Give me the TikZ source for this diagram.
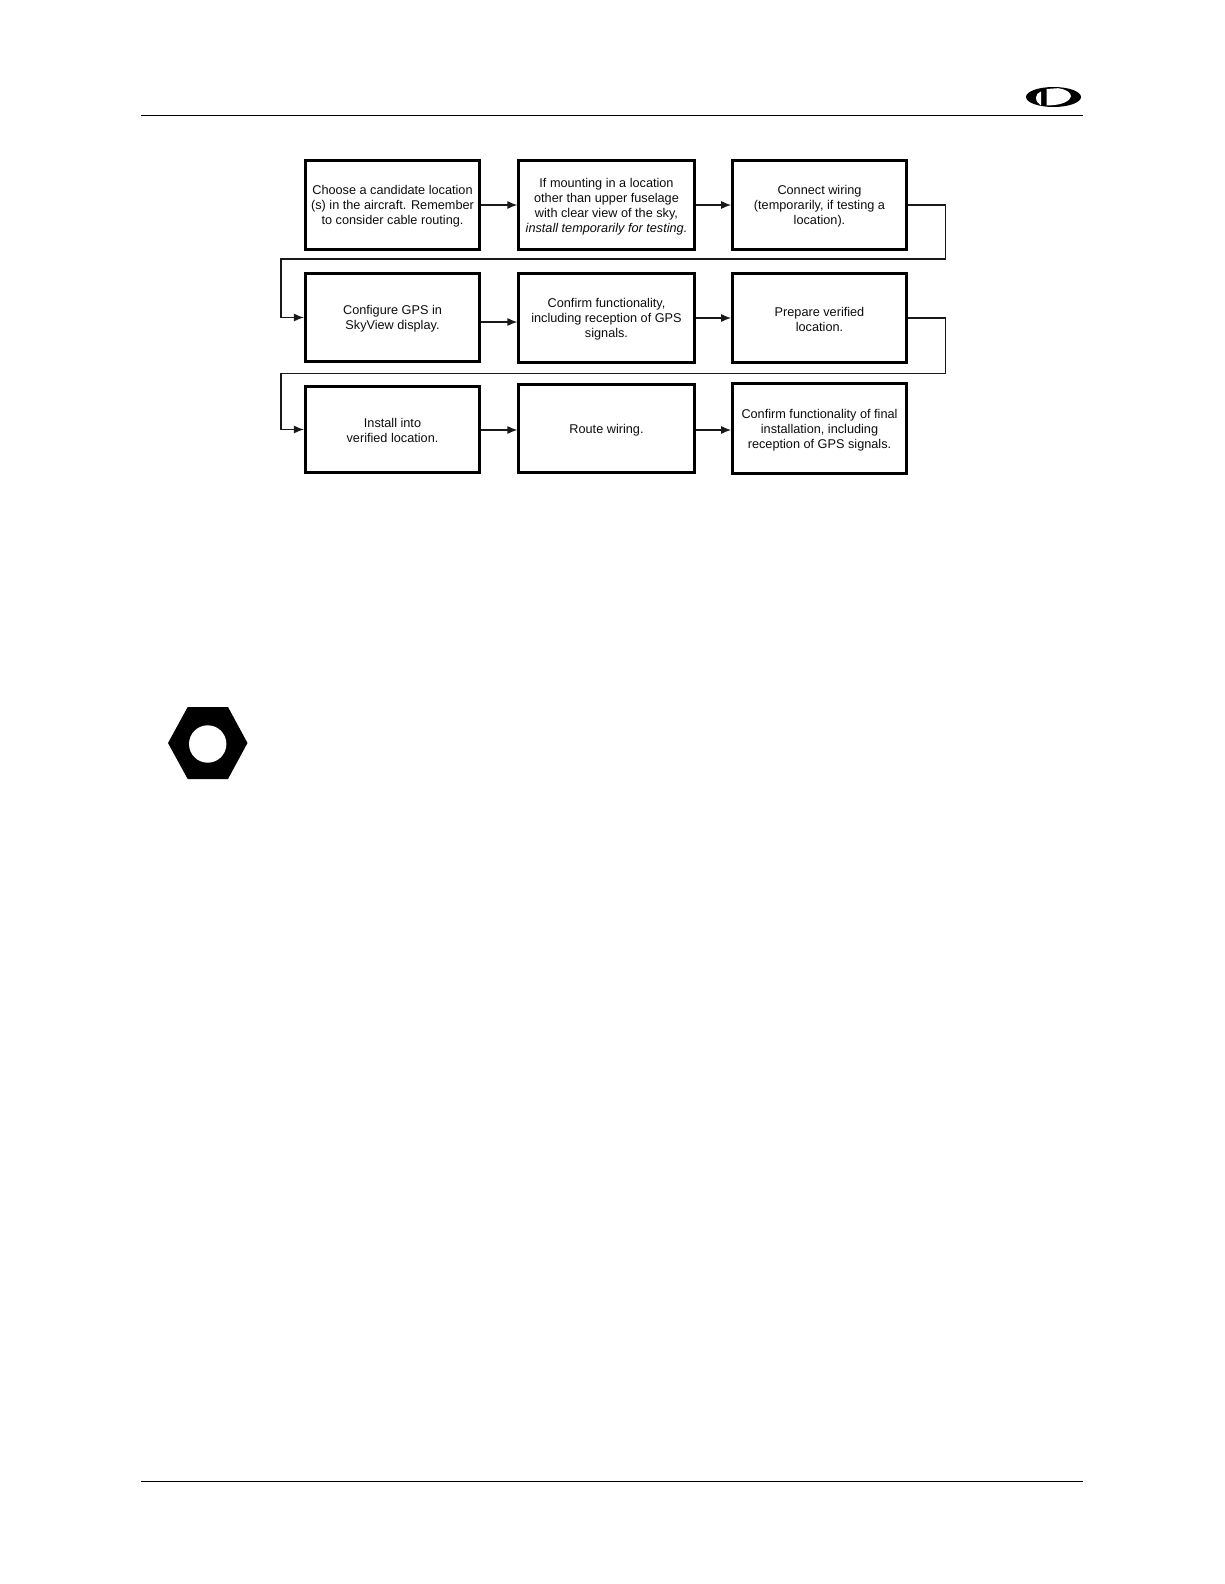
\documentclass[tikz,border=0pt]{standalone}
\usepackage{fontspec}
\setmainfont{Liberation Sans}
\usetikzlibrary{arrows.meta}
\tikzset{
  flowbox/.style={draw=black,line width=2.7pt,fill=white,inner sep=0pt,align=center,font=\fontsize{12.7}{15}\selectfont,text=black!95},
  link/.style={draw=black!90,line width=1.3pt,-{Latex[length=10pt,width=8pt]}},
  rulerline/.style={draw=black,line width=1pt}
}
\newcommand{\fbx}[6]{\node[flowbox,minimum width=#3pt,minimum height=#4pt] (#5) at (#1,#2) {\rule{0pt}{12pt}#6};}
\begin{document}
\begin{tikzpicture}[x=1pt,y=-1pt]
\useasboundingbox (0,0) rectangle (1224,1584);
\fill[white] (0,0) rectangle (1224,1584);
% page rules
\coordinate (hl) at (141,115.5); \coordinate (hr) at (1083,115.5);
\coordinate (fl) at (141,1481); \coordinate (fr) at (1083,1481);
\draw[rulerline] (hl) -- (hr);
\draw[rulerline] (fl) -- (fr);
% logo
\fill[black] (1053.5,97) ellipse [x radius=27.5pt,y radius=10pt];
\fill[white] (1041,91.5) .. controls (1038,92.5) and (1036,94.8) .. (1036,97.5) .. controls (1036,101) and (1038,103.8) .. (1041,105.5) -- cycle;
\fill[white] (1046.5,89) -- (1058,88.2) .. controls (1067,89.5) and (1071,93) .. (1071,96.5) .. controls (1070,101) and (1062,104.8) .. (1051,105.3) -- (1046.5,105.5) -- cycle;
% bolt icon
\fill[black] (187.7,707) -- (228,707) -- (247.5,743) -- (228,779) -- (187.7,779) -- (168,743) -- cycle;
\fill[white] (207.7,744) circle [radius=18.7pt];
% boxes
\fbx{392.5}{205}{174.5}{89}{b1}{Choose a candidate location\\(s) in the aircraft. Remember\\to consider cable routing.}
\fbx{606.5}{205}{175.5}{89}{b2}{If mounting in a location\\other than upper fuselage\\with clear view of the sky,\\\textit{install temporarily for testing.}}
\fbx{819.5}{205}{174}{89}{b3}{Connect wiring\\(temporarily, if testing a\\location).}
\fbx{392.5}{317.5}{174.5}{88}{b4}{Configure GPS in\\SkyView display.}
\fbx{606.5}{318}{175.5}{89}{b5}{Confirm functionality,\\including reception of GPS\\signals.}
\fbx{819.5}{318}{174}{89}{b6}{Prepare verified\\location.}
\fbx{392.5}{429.5}{174.5}{86}{b7}{Install into\\verified location.}
\fbx{606.5}{428.5}{175.5}{88}{b8}{Route wiring.}
\fbx{819.5}{428.5}{174}{90}{b9}{Confirm functionality of final\\installation, including\\reception of GPS signals.}
% connectors
\coordinate (c1) at (945.7,205);
\coordinate (c2) at (945.7,259);
\coordinate (c3) at (281,259);
\coordinate (c4) at (281,317.5);
\coordinate (c5) at (945.7,318);
\coordinate (c6) at (945.7,373.5);
\coordinate (c7) at (281,373.5);
\coordinate (c8) at (281,429.5);
\draw[link] (b1.east) -- (b2.west);
\draw[link] (b2.east) -- (b3.west);
\draw[link] (b3.east) -- (c1) -- (c2) -- (c3) -- (c4) -- (b4.west);
\draw[link] ([yshift=-4.5pt]b4.east) -- ([yshift=-4pt]b5.west);
\draw[link] (b5.east) -- (b6.west);
\draw[link] (b6.east) -- (c5) -- (c6) -- (c7) -- (c8) -- (b7.west);
\draw[link] ([yshift=-0.5pt]b7.east) -- ([yshift=-1.5pt]b8.west);
\draw[link] ([yshift=-1.5pt]b8.east) -- ([yshift=-1.5pt]b9.west);
\end{tikzpicture}
\end{document}
